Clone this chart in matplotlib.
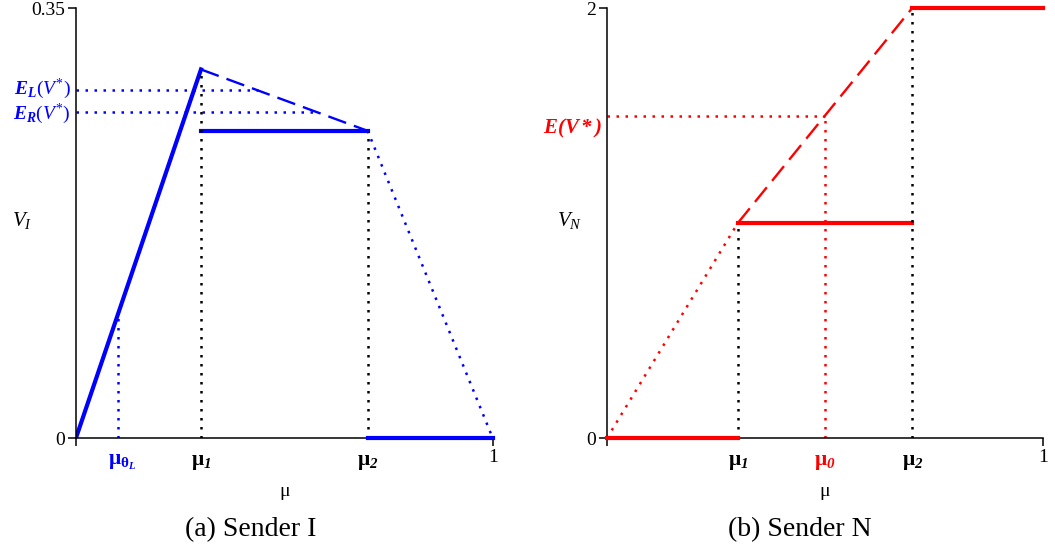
import matplotlib.pyplot as plt

plt.rcParams['font.family'] = ['Liberation Serif', 'DejaVu Serif']
plt.rcParams['mathtext.fontset'] = 'custom'
plt.rcParams['mathtext.rm'] = 'Liberation Serif'
plt.rcParams['mathtext.it'] = 'Liberation Serif:italic'
plt.rcParams['mathtext.bf'] = 'Liberation Serif:bold'
plt.rcParams['mathtext.bfit'] = 'Liberation Serif:bold:italic'

# beliefs on the x axis
mu_theta_L = 0.1
mu_1 = 0.3
mu_0 = 0.5
mu_2 = 0.7

# sender I values
vi_peak = 0.30
vi_mid = 0.25
E_L = 0.283
E_R = 0.265
vi_top = 0.35

# sender N values
vn_mid = 1.0
vn_high = 2.0
E_N = 1.5
vn_top = 2.0

BLUE = '#0000ff'
RED = '#ff0000'
dot = (0, (1, 2.6))
dash = (0, (8, 3.5))
fs = 14

fig = plt.figure(figsize=(10.55, 5.52), dpi=100)
axI = fig.add_axes([0.072, 0.2065, 0.395, 0.779])
axN = fig.add_axes([0.5754, 0.2065, 0.4133, 0.779])


def style_axes(ax, ytop, ytoplabel):
    for s in ['top', 'right']:
        ax.spines[s].set_visible(False)
    for s in ['left', 'bottom']:
        ax.spines[s].set_linewidth(1.1)
    ax.set_xlim(0, 1)
    ax.set_ylim(0, ytop)
    ax.set_xticks([0, 1])
    ax.set_xticklabels(['', '1'])
    ax.set_yticks([0, ytop])
    ax.set_yticklabels(['0', ytoplabel])
    ax.tick_params(direction='out', length=6, width=1.1, labelsize=fs, pad=2)
    ax.set_xlabel('μ', fontsize=fs, labelpad=12)


def mu_label(ax, x, text, color='black'):
    ax.text(x, -0.035, text, transform=ax.get_xaxis_transform(), ha='center',
            va='top', fontsize=fs + 1.5, color=color)


# (a) Sender I
style_axes(axI, vi_top, '0.35')
axI.plot([0, mu_1], [0, vi_peak], color=BLUE, lw=3)
axI.plot([mu_1, mu_2], [vi_mid, vi_mid], color=BLUE, lw=3)
axI.plot([mu_2, 1], [0, 0], color=BLUE, lw=3, clip_on=False, zorder=3)
axI.plot([mu_1, mu_2], [vi_peak, vi_mid], color=BLUE, lw=1.7, ls=dash)
axI.plot([mu_2, 1], [vi_mid, 0], color=BLUE, lw=1.8, ls=dot)
x_EL = mu_1 + (vi_peak - E_L) / (vi_peak - vi_mid) * (mu_2 - mu_1)
x_ER = mu_1 + (vi_peak - E_R) / (vi_peak - vi_mid) * (mu_2 - mu_1)
axI.plot([0, x_EL], [E_L, E_L], color=BLUE, lw=1.8, ls=dot)
axI.plot([0, x_ER], [E_R, E_R], color=BLUE, lw=1.8, ls=dot)
axI.plot([mu_theta_L, mu_theta_L], [0, mu_theta_L * vi_peak / mu_1], color=BLUE, lw=1.8, ls=dot)
axI.plot([mu_1, mu_1], [0, vi_peak], color='black', lw=1.8, ls=dot)
axI.plot([mu_2, mu_2], [0, vi_mid], color='black', lw=1.8, ls=dot)

axI.text(-0.012, E_L + 0.0012, r'$\mathbfit{E}_{\mathbfit{L}}(\mathit{V}^{*})$', color=BLUE,
         ha='right', va='center', fontsize=fs, transform=axI.get_yaxis_transform())
axI.text(-0.012, E_R - 0.0012, r'$\mathbfit{E}_{\mathbfit{R}}(\mathit{V}^{*})$', color=BLUE,
         ha='right', va='center', fontsize=fs, transform=axI.get_yaxis_transform())
axI.text(-0.13, 0.505, r'$\mathit{V}_{\mathit{I}}$', transform=axI.transAxes,
         ha='center', va='center', fontsize=fs + 1)
mu_label(axI, mu_theta_L + 0.012, r'$\mathbf{μ}_{\mathbf{θ}_{\mathbfit{L}}}$', BLUE)
mu_label(axI, mu_1, r'$\mathbf{μ}_{\mathbfit{1}}$')
mu_label(axI, mu_2, r'$\mathbf{μ}_{\mathbfit{2}}$')

# (b) Sender N
style_axes(axN, vn_top, '2')
axN.plot([0, mu_1], [0, 0], color=RED, lw=3, clip_on=False, zorder=3)
axN.plot([mu_1, mu_2], [vn_mid, vn_mid], color=RED, lw=3)
axN.plot([mu_2, 1], [vn_high, vn_high], color=RED, lw=3, clip_on=False)
axN.plot([0, mu_1], [0, vn_mid], color=RED, lw=1.8, ls=dot)
axN.plot([mu_1, mu_2], [vn_mid, vn_high], color=RED, lw=1.7, ls=dash)
axN.plot([0, mu_0], [E_N, E_N], color=RED, lw=1.8, ls=dot)
axN.plot([mu_0, mu_0], [0, E_N], color=RED, lw=1.8, ls=dot)
axN.plot([mu_1, mu_1], [0, vn_mid], color='black', lw=1.8, ls=dot)
axN.plot([mu_2, mu_2], [0, vn_high], color='black', lw=1.8, ls=dot)

axN.text(-0.012, E_N - 0.06, r'$\mathbfit{E(V*)}$', color=RED, ha='right', va='center',
         fontsize=fs + 1, transform=axN.get_yaxis_transform())
axN.text(-0.085, 0.505, r'$\mathit{V}_{\mathit{N}}$', transform=axN.transAxes,
         ha='center', va='center', fontsize=fs + 1)
mu_label(axN, mu_1, r'$\mathbf{μ}_{\mathbfit{1}}$')
mu_label(axN, mu_0, r'$\mathbf{μ}_{\mathbfit{0}}$', RED)
mu_label(axN, mu_2, r'$\mathbf{μ}_{\mathbfit{2}}$')

fig.text(0.238, 0.04, '(a) Sender I', ha='center', va='center', fontsize=20)
fig.text(0.758, 0.04, '(b) Sender N', ha='center', va='center', fontsize=20)

fig.savefig('out.png', dpi=100)
